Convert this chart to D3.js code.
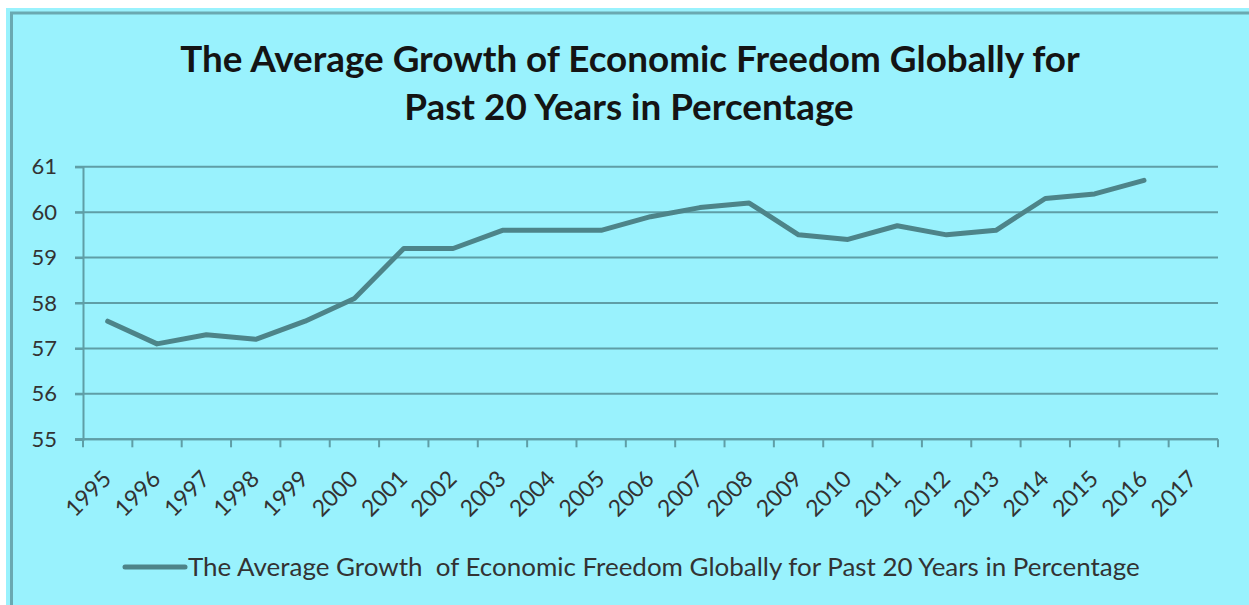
<!DOCTYPE html>
<html>
<head>
<meta charset="utf-8">
<script src="https://cdn.jsdelivr.net/npm/d3@7"></script>
<style>
  html, body { margin: 0; padding: 0; background: #ffffff; }
  svg { display: block; }
  text { font-family: Lato, "Open Sans", sans-serif; }
</style>
</head>
<body>
<svg id="chart" width="1249" height="605"></svg>
<script>
// ---- data ----
const years = ["1995","1996","1997","1998","1999","2000","2001","2002","2003","2004","2005","2006",
               "2007","2008","2009","2010","2011","2012","2013","2014","2015","2016","2017"];
const values = [57.6, 57.1, 57.3, 57.2, 57.6, 58.1, 59.2, 59.2, 59.6, 59.6, 59.6, 59.9,
                60.1, 60.2, 59.5, 59.4, 59.7, 59.5, 59.6, 60.3, 60.4, 60.7, null];
const yTicks = [55, 56, 57, 58, 59, 60, 61];
const titleLines = ["The Average Growth of Economic Freedom Globally for", "Past 20 Years in Percentage"];
const seriesName = "The Average Growth  of Economic Freedom Globally for Past 20 Years in Percentage";

// ---- layout ----
const W = 1249, H = 605;
const bg = "#99f2fd";
const gridColor = "#5f9ea6";
const lineColor = "#4d8489";
const plot = { left: 83, right: 1218, top: 166.7, bottom: 439.3 };

const svg = d3.select("#chart");

// background
svg.append("rect").attr("x", 6).attr("y", 8).attr("width", W - 6).attr("height", H - 8).attr("fill", bg);
// border (top and left visible)
svg.append("path")
  .attr("d", `M11.5,${H} L11.5,13 L${W},13`)
  .attr("fill", "none").attr("stroke", "#6aa9b1").attr("stroke-width", 3);

const x = d3.scaleBand().domain(years).range([plot.left, plot.right]).padding(0);
const y = d3.scaleLinear().domain([55, 61]).range([plot.bottom, plot.top]);

// gridlines
svg.append("g").selectAll("line").data(yTicks).join("line")
  .attr("x1", plot.left - 8).attr("x2", plot.right)
  .attr("y1", d => y(d)).attr("y2", d => y(d))
  .attr("stroke", gridColor).attr("stroke-width", 2);

// y axis
const yAxis = svg.append("g").attr("transform", `translate(${plot.left},0)`)
  .call(d3.axisLeft(y).tickValues(yTicks).tickSize(8).tickPadding(18).tickFormat(d3.format("d")));
yAxis.select(".domain").attr("stroke", gridColor).attr("stroke-width", 2);
yAxis.selectAll(".tick line").attr("stroke", gridColor).attr("stroke-width", 2);
yAxis.selectAll(".tick text").attr("font-size", 22).attr("fill", "#333").attr("font-family", "Lato");

// x axis
const xAxis = svg.append("g").attr("transform", `translate(0,${plot.bottom})`)
  .call(d3.axisBottom(x).tickSize(0).tickFormat(""));
xAxis.select(".domain").attr("stroke", gridColor).attr("stroke-width", 2).attr("d", `M${plot.left - 8},0H${plot.right}`);
xAxis.selectAll(".tick").remove();
const boundaries = years.map(d => x(d)).concat([plot.right]);
xAxis.selectAll("line.tk").data(boundaries).join("line").attr("class", "tk")
  .attr("x1", d => d).attr("x2", d => d).attr("y1", 0).attr("y2", 8)
  .attr("stroke", gridColor).attr("stroke-width", 2);
xAxis.selectAll("text.lbl").data(years).join("text").attr("class", "lbl")
  .attr("transform", d => `translate(${x(d) + x.bandwidth() / 2 + 5},41) rotate(-45)`)
  .attr("text-anchor", "end")
  .attr("font-size", 23).attr("fill", "#333")
  .text(d => d);

// line
const pts = years.map((d, i) => ({ year: d, v: values[i] }));
const line = d3.line()
  .defined(d => d.v != null)
  .x(d => x(d.year) + x.bandwidth() / 2)
  .y(d => y(d.v));
svg.append("path").datum(pts)
  .attr("d", line)
  .attr("fill", "none").attr("stroke", lineColor).attr("stroke-width", 5)
  .attr("stroke-linejoin", "round").attr("stroke-linecap", "round");

// title
function fitText(sel, targetWidth) {
  const fs = +sel.attr("font-size");
  const w = sel.node().getComputedTextLength();
  sel.attr("font-size", fs * targetWidth / w);
}
const t1 = svg.append("text").attr("x", 630).attr("y", 71.5).attr("text-anchor", "middle")
  .attr("font-size", 34).attr("font-weight", 700).attr("fill", "#141414").text(titleLines[0]);
fitText(t1, 900);
const t2 = svg.append("text").attr("x", 629).attr("y", 119.5).attr("text-anchor", "middle")
  .attr("font-size", t1.attr("font-size")).attr("font-weight", 700).attr("fill", "#141414").text(titleLines[1]);

// legend
svg.append("line").attr("x1", 125).attr("x2", 185).attr("y1", 567).attr("y2", 567)
  .attr("stroke", lineColor).attr("stroke-width", 5).attr("stroke-linecap", "round");
const lg = svg.append("text").attr("x", 188).attr("y", 576)
  .attr("font-size", 20).attr("fill", "#333").style("white-space", "pre").text(seriesName);
fitText(lg, 952);
</script>
</body>
</html>
